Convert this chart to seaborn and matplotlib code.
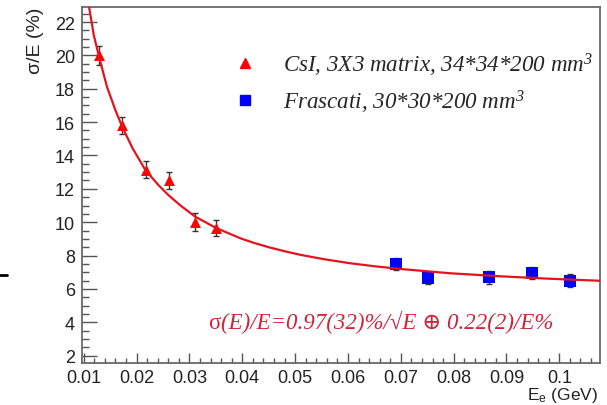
import matplotlib
matplotlib.use("Agg")
import matplotlib.pyplot as plt
from matplotlib.lines import Line2D
from matplotlib.ticker import FixedLocator, FixedFormatter, MultipleLocator
import pandas as pd
import seaborn as sns

# CsI 3x3 matrix test-beam points
csi_energy = [0.0129, 0.0172, 0.0218, 0.0262, 0.0311, 0.0350]
csi_resolution = [20.0, 15.8, 13.15, 12.5, 10.0, 9.65]
csi_error = [0.55, 0.53, 0.50, 0.52, 0.55, 0.50]

# Frascati beam points
frascati_energy = [0.0691, 0.0752, 0.0867, 0.0948, 0.1021]
frascati_resolution = [7.50, 6.66, 6.70, 6.96, 6.50]
frascati_error = [0.38, 0.38, 0.38, 0.38, 0.38]

# fitted resolution curve
fit_energy = [0.0105, 0.0110, 0.0119, 0.0129, 0.0144, 0.0160, 0.0173, 0.0192,
              0.0217, 0.0242, 0.0261, 0.0283, 0.0311, 0.0350, 0.0396, 0.0420,
              0.0450, 0.0480, 0.0509, 0.0555, 0.0604, 0.0650, 0.0698, 0.0793,
              0.0887, 0.0982, 0.1077]
fit_resolution = [23.8, 22.9, 21.2, 19.9, 18.1, 16.7, 15.7, 14.45,
                  13.1, 12.2, 11.6, 11.0, 10.33, 9.66, 9.04, 8.78,
                  8.5, 8.26, 8.05, 7.78, 7.54, 7.36, 7.2, 6.94,
                  6.76, 6.61, 6.49]

x_ticks = [0.01, 0.02, 0.03, 0.04, 0.05, 0.06, 0.07, 0.08, 0.09, 0.1]
x_tick_labels = ["0.01", "0.02", "0.03", "0.04", "0.05", "0.06", "0.07",
                 "0.08", "0.09", "0.1"]
y_ticks = [2, 4, 6, 8, 10, 12, 14, 16, 18, 20, 22]

series_labels = ["CsI, 3X3 matrix, 34*34*200 mm$^3$",
                 "Frascati, 30*30*200 mm$^3$"]
fit_label_sigma = "σ"
fit_label_rest = "(E)/E=0.97(32)%/√E ⊕ 0.22(2)/E%"

sns.set_style("ticks")
plt.rcParams["font.family"] = ["Liberation Sans", "DejaVu Sans"]
plt.rcParams["mathtext.default"] = "regular"

frame_color = "#6a6a6a"
tick_color = "#555555"
fit_color = "#e3141e"
text_red = "#d3223a"
serif = ["Liberation Serif", "DejaVu Serif"]

fig = plt.figure(figsize=(6.07, 4.06), dpi=100)
ax = fig.add_axes([82 / 607, 42 / 406, 518 / 607, 356 / 406])

csi = pd.DataFrame({"energy": csi_energy, "resolution": csi_resolution,
                    "error": csi_error})
frascati = pd.DataFrame({"energy": frascati_energy,
                         "resolution": frascati_resolution,
                         "error": frascati_error})
fit = pd.DataFrame({"energy": fit_energy, "resolution": fit_resolution})

for df in (csi, frascati):
    ax.errorbar(df["energy"], df["resolution"], yerr=df["error"], fmt="none",
                ecolor="#333333", elinewidth=1.0, capsize=2.5, capthick=1.0,
                zorder=2)

sns.scatterplot(data=csi, x="energy", y="resolution", marker="^", s=62,
                color="#ff0000", edgecolor="#ff0000", linewidth=0,
                ax=ax, zorder=3, legend=False)
sns.scatterplot(data=frascati, x="energy", y="resolution", marker="s", s=70,
                color="#0000ff", edgecolor="#0000ff", linewidth=0,
                ax=ax, zorder=3, legend=False)
sns.lineplot(data=fit, x="energy", y="resolution", color=fit_color,
             linewidth=1.6, sort=False, estimator=None, ax=ax, zorder=4)

ax.set_xlim(0.00966, 0.1077)
ax.set_ylim(1.56, 22.9)

ax.xaxis.set_major_locator(FixedLocator(x_ticks))
ax.xaxis.set_major_formatter(FixedFormatter(x_tick_labels))
ax.xaxis.set_minor_locator(MultipleLocator(0.002))
ax.yaxis.set_major_locator(FixedLocator(y_ticks))
ax.yaxis.set_minor_locator(MultipleLocator(0.5))

ax.tick_params(axis="both", which="both", direction="in", color=tick_color,
               labelcolor="#222222", labelsize=13, top=False, right=False)
ax.tick_params(axis="x", which="major", length=7.2, width=1.0, pad=4.5)
ax.tick_params(axis="x", which="minor", length=3.6, width=1.0)
ax.tick_params(axis="y", which="major", length=10.5, width=1.0, pad=5)
ax.tick_params(axis="y", which="minor", length=5.0, width=1.0)

for spine in ax.spines.values():
    spine.set_visible(True)
    spine.set_color(frame_color)
    spine.set_linewidth(1.3)

ax.set_ylabel("σ/E (%)", fontsize=14, color="#222222", loc="top")
ax.yaxis.set_label_coords(-0.073, 1.0)
ax.set_xlabel("E$_e$ (GeV)", fontsize=12.5, color="#222222", loc="right")
ax.xaxis.set_label_coords(0.996, -0.062)

handles = [
    Line2D([], [], linestyle="none", marker="^", markersize=7.5,
           markerfacecolor="#ff0000", markeredgecolor="#ff0000"),
    Line2D([], [], linestyle="none", marker="s", markersize=7.5,
           markerfacecolor="#0000ff", markeredgecolor="#0000ff"),
]
ax.legend(handles, series_labels, loc="upper left",
          bbox_to_anchor=(0.2925, 0.878), frameon=False,
          prop={"family": serif, "style": "italic", "size": 16.6},
          handlelength=1.0, handletextpad=1.15, labelspacing=0.42,
          borderpad=0.0, borderaxespad=0.0)

sigma_txt = ax.text(0.243, 0.098, fit_label_sigma, transform=ax.transAxes,
                    fontsize=16.5, family=serif, color=text_red,
                    va="baseline", ha="left")
ax.annotate(fit_label_rest, xy=(1, 0), xycoords=sigma_txt,
            xytext=(0.5, 0), textcoords="offset points",
            fontsize=16.5, family=serif, style="italic", color=text_red,
            va="bottom", ha="left")

# short stroke at the left margin
fig.add_artist(Line2D([0, 7 / 607], [1 - 276 / 406, 1 - 276 / 406],
                      color="black", linewidth=2.0,
                      transform=fig.transFigure))

fig.savefig("out.png", dpi=100)
